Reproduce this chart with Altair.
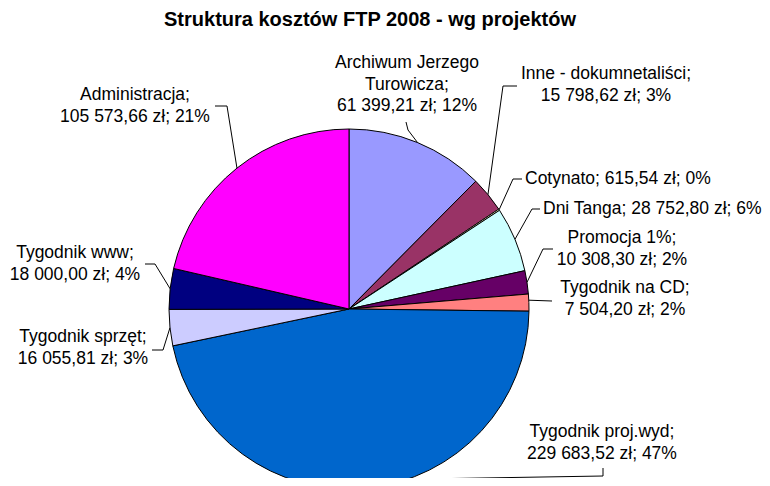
import math
import altair as alt
import pandas as pd

# ---------------- data ----------------
categories = ["Archiwum Jerzego Turowicza", "Inne - dokumnetaliści", "Cotynato", "Dni Tanga",
              "Promocja 1%", "Tygodnik na CD", "Tygodnik proj.wyd", "Tygodnik sprzęt",
              "Tygodnik www", "Administracja"]
values = [61399.21, 15798.62, 615.54, 28752.80, 10308.30, 7504.20, 229683.52, 16055.81,
          18000.00, 105573.66]
colors = ["#9999FF", "#993366", "#FFFFCC", "#CCFFFF", "#660066", "#FF8080", "#0066CC",
          "#CCCCFF", "#000080", "#FF00FF"]
title_text = "Struktura kosztów FTP 2008 - wg projektów"

# ---------------- layout (page pixels) ----------------
OFF = 8
CX, CY, R = 349, 309, 180
FONT = "Liberation Sans"
# label anchor x, y (first line centre), align, line mode, leader points (label side), attach fraction
layout = {
    "Archiwum Jerzego Turowicza": (407, 63, "center", "arch", [(406, 122), (408, 130)], 0.5),
    "Inne - dokumnetaliści": (606, 74, "center", "two", [(517, 86), (503, 86)], 0.5),
    "Cotynato": (525, 179, "left", "one", [(522, 179), (513, 179)], 0.5),
    "Dni Tanga": (543, 209, "left", "one", [(540, 209), (532, 209)], 0.5),
    "Promocja 1%": (622, 238, "center", "two", [(553, 249), (543, 249)], 0.5),
    "Tygodnik na CD": (625, 288, "center", "two", [(552, 301)], 0.36),
    "Tygodnik proj.wyd": (602, 432, "center", "two", [(603, 468), (603, 476)], 0.42),
    "Tygodnik sprzęt": (83, 337, "center", "two", [(152, 350), (163, 350)], 0.5),
    "Tygodnik www": (75, 253, "center", "two", [(145, 264), (155, 264)], 0.5),
    "Administracja": (135, 95, "center", "two", [(215, 106), (227, 106)], 0.5),
}

total = sum(values)


def fmt(v):
    return f"{v:,.2f}".replace(",", " ").replace(".", ",")


pie_rows, text_rows, line_rows = [], [], []
cum = 0.0
for i, (c, v) in enumerate(zip(categories, values)):
    pct = round(v / total * 100)
    vs = f"{fmt(v)} zł; {pct}%"
    x, y, align, mode, pts, frac = layout[c]
    if mode == "arch":
        lines = ["Archiwum Jerzego", "Turowicza;", vs]
    elif mode == "one":
        lines = [f"{c}; {vs}"]
    else:
        lines = [f"{c};", vs]
    pie_rows.append({"cat": c, "value": v, "idx": i})
    text_rows.append({"cat": c, "lines": lines, "x": x - OFF, "y": y - OFF, "align": align})
    a = 2 * math.pi * (cum + frac * v) / total
    ex = CX + R * math.sin(a)
    ey = CY - R * math.cos(a)
    allpts = pts + [(ex, ey)]
    for k, (px, py) in enumerate(allpts):
        line_rows.append({"cat": c, "k": k, "x": px - OFF, "y": py - OFF})
    cum += v

pie_df = pd.DataFrame(pie_rows)
text_df = pd.DataFrame(text_rows)
line_df = pd.DataFrame(line_rows)
title_df = pd.DataFrame([{"t": title_text, "x": 370 - OFF, "y": 20 - OFF}])

pie = alt.Chart(pie_df).mark_arc(radius=R, stroke="black", strokeWidth=1).encode(
    theta=alt.Theta("value:Q", stack=True),
    order=alt.Order("idx:Q", sort="ascending"),
    color=alt.Color("cat:N", scale=alt.Scale(domain=categories, range=colors), legend=None),
    x=alt.value(CX - OFF),
    y=alt.value(CY - OFF),
)

xs = alt.X("x:Q", scale=None, axis=None)
ys = alt.Y("y:Q", scale=None, axis=None)

leaders = alt.Chart(line_df).mark_line(color="black", strokeWidth=1).encode(
    x=xs, y=ys, detail="cat:N", order="k:Q"
)

txt_center = alt.Chart(text_df).transform_filter(alt.datum.align == "center").mark_text(
    align="center", baseline="middle", font=FONT, fontSize=17.5, lineHeight=21.5, color="black"
).encode(x=xs, y=ys, text="lines")

txt_left = alt.Chart(text_df).transform_filter(alt.datum.align == "left").mark_text(
    align="left", baseline="middle", font=FONT, fontSize=17.5, lineHeight=21.5, color="black"
).encode(x=xs, y=ys, text="lines")

title = alt.Chart(title_df).mark_text(
    align="center", baseline="middle", font=FONT, fontSize=20, fontWeight="bold", color="black"
).encode(x=xs, y=ys, text="t:N")

chart = alt.layer(pie, leaders, txt_center, txt_left, title).properties(
    width=754, height=470, padding=0, autosize=alt.AutoSizeParams(type="none")
).configure_view(stroke=None)

chart.save("out.html", embed_options={"renderer": "svg", "actions": False})
